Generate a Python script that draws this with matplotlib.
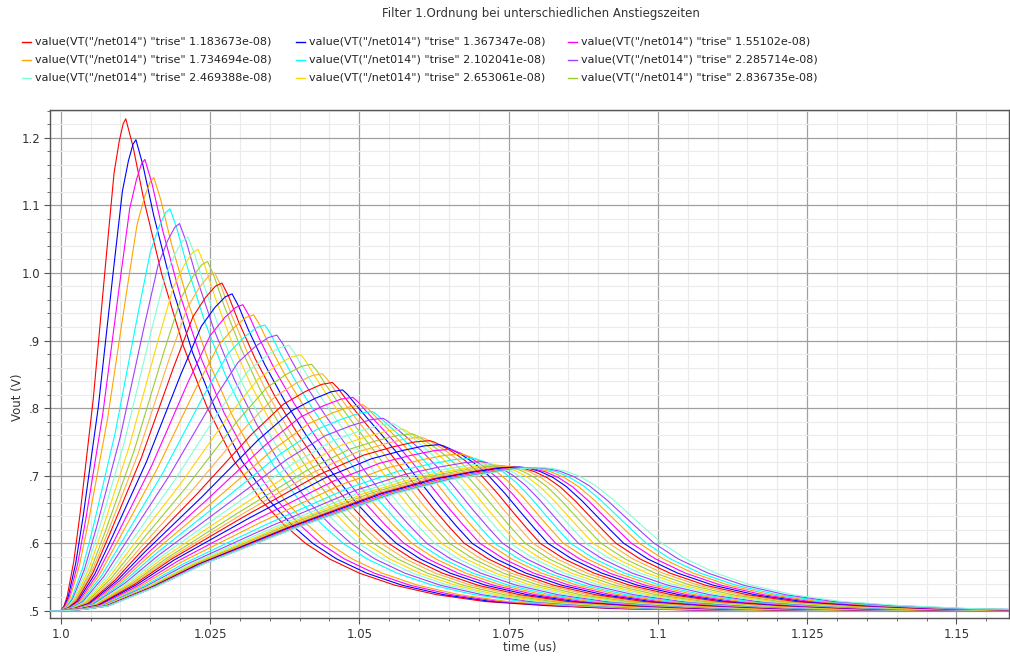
import matplotlib
matplotlib.use("Agg")
import matplotlib.pyplot as plt
from matplotlib.lines import Line2D
from matplotlib.ticker import FixedLocator, MultipleLocator

# trise of every trace drawn (the 1.918367e-08 run does not show up in the plot)
trise = [1.183673e-08, 1.367347e-08, 1.55102e-08, 1.734694e-08, 2.102041e-08,
         2.285714e-08, 2.469388e-08, 2.653061e-08, 2.836735e-08, 3.020408e-08,
         3.204082e-08, 3.387755e-08, 3.571429e-08, 3.755102e-08, 3.938776e-08,
         4.122449e-08, 4.306122e-08, 4.489796e-08, 4.673469e-08, 4.857143e-08,
         5.040816e-08, 5.22449e-08, 5.408163e-08, 5.591837e-08, 5.77551e-08,
         5.959184e-08, 6.142857e-08, 6.326531e-08, 6.510204e-08, 6.693878e-08,
         6.877551e-08, 7.061224e-08, 7.244898e-08, 7.428571e-08, 7.612245e-08,
         7.795918e-08, 7.979592e-08, 8.163265e-08, 8.346939e-08, 8.530612e-08,
         8.714286e-08, 8.897959e-08, 9.081633e-08, 9.265306e-08, 9.44898e-08,
         9.632653e-08, 9.816327e-08]

# one value per trace
peak_time_us = [1.0109, 1.0126, 1.0141, 1.0156, 1.0183, 1.0199, 1.0213, 1.0230, 1.0246, 1.0258,
                1.0270, 1.0287, 1.0305, 1.0323, 1.0342, 1.0362, 1.0382, 1.0402, 1.0420, 1.0438,
                1.0455, 1.0472, 1.0489, 1.0506, 1.0522, 1.0540, 1.0557, 1.0573, 1.0589, 1.0604,
                1.0618, 1.0634, 1.0652, 1.0671, 1.0690, 1.0705, 1.0718, 1.0730, 1.0741, 1.0751,
                1.0760, 1.0768, 1.0776, 1.0783, 1.0790, 1.0796, 1.0802]
peak_vout = [1.228, 1.197, 1.168, 1.141, 1.095, 1.073, 1.053, 1.035, 1.017, 1.000,
             0.985, 0.969, 0.953, 0.938, 0.923, 0.908, 0.893, 0.879, 0.865, 0.851,
             0.838, 0.827, 0.816, 0.805, 0.795, 0.785, 0.777, 0.769, 0.762, 0.757,
             0.752, 0.746, 0.739, 0.732, 0.726, 0.721, 0.718, 0.716, 0.715, 0.714,
             0.713, 0.713, 0.712, 0.712, 0.712, 0.712, 0.712]
# time where the falling edge crosses 0.6 V
fall_060_us = [1.0410, 1.0422, 1.0435, 1.0448, 1.0473, 1.0486, 1.0499, 1.0511, 1.0524, 1.0537,
               1.0549, 1.0562, 1.0575, 1.0588, 1.0600, 1.0613, 1.0626, 1.0638, 1.0651, 1.0664,
               1.0676, 1.0689, 1.0702, 1.0715, 1.0727, 1.0740, 1.0753, 1.0765, 1.0778, 1.0791,
               1.0803, 1.0816, 1.0829, 1.0842, 1.0854, 1.0867, 1.0880, 1.0892, 1.0905, 1.0918,
               1.0930, 1.0943, 1.0956, 1.0969, 1.0981, 1.0994, 1.1007]
# 0 = shaped like the fastest trace, 1 = like the slowest
shape_mix = [0, .02, .04, .06, .09, .11, .13, .16, .18, .20,
             .23, .25, .28, .31, .33, .36, .39, .42, .44, .47,
             .50, .53, .56, .59, .62, .65, .68, .71, .74, .77,
             .80, .82, .83, .85, .86, .87, .88, .89, .90, .91,
             .93, .94, .95, .96, .97, .98, 1.0]

# edge shapes read from the fastest / slowest trace (fractions of time and height)
rise_frac_t = [0.05, 0.1, 0.2, 0.3, 0.5, 0.7, 0.82, 0.9, 0.96]
rise_fast = [0.01, 0.03, 0.10, 0.20, 0.43, 0.72, 0.89, 0.955, 0.99]
rise_slow = [0.012, 0.035, 0.17, 0.33, 0.59, 0.82, 0.92, 0.965, 0.993]
fall_frac_t = [0.04, 0.1, 0.2, 0.32, 0.45, 0.6, 0.75, 0.88]
fall_fast = [0.935, 0.81, 0.634, 0.465, 0.323, 0.196, 0.103, 0.044]
fall_slow = [0.998, 0.99, 0.96, 0.89, 0.77, 0.58, 0.36, 0.17]
# tail after the 0.6 V crossing
tail_dt_us = [0.004, 0.009, 0.015, 0.022, 0.030, 0.040, 0.052, 0.066]
tail_vout = [0.577, 0.556, 0.538, 0.524, 0.514, 0.508, 0.5035, 0.5014]

v_base = 0.5
v_knee = 0.6
t_start_us = 0.99
t_edge_us = 1.0
t_stop_us = 1.17

colors = ['#ff0000', '#0000ff', '#ff00ff', '#ffa500', '#00ffff',
          '#a040ff', '#80ffd4', '#ffd700', '#9acd32', '#ffb040']

x_ticks = [1.0, 1.025, 1.05, 1.075, 1.1, 1.125, 1.15]
x_labels = ['1.0', '1.025', '1.05', '1.075', '1.1', '1.125', '1.15']
y_ticks = [0.5, 0.6, 0.7, 0.8, 0.9, 1.0, 1.1, 1.2]
y_labels = ['.5', '.6', '.7', '.8', '.9', '1.0', '1.1', '1.2']


def trace(i):
    tp, vp, t6, m = peak_time_us[i], peak_vout[i], fall_060_us[i], shape_mix[i]
    d = tp - t_edge_us
    h = vp - v_base
    ts = [t_start_us, t_edge_us]
    vs = [v_base, v_base]
    for f, a, b in zip(rise_frac_t, rise_fast, rise_slow):
        ts.append(t_edge_us + f * d)
        vs.append(v_base + (a + m * (b - a)) * h)
    ts.append(tp)
    vs.append(vp)
    span = t6 - tp
    for f, a, b in zip(fall_frac_t, fall_fast, fall_slow):
        ts.append(tp + f * span)
        vs.append(v_knee + (a + m * (b - a)) * (vp - v_knee))
    ts.append(t6)
    vs.append(v_knee)
    for dt, v in zip(tail_dt_us, tail_vout):
        ts.append(t6 + dt)
        vs.append(v)
    ts.append(t_stop_us)
    vs.append(v_base)
    return ts, vs


W, H = 1010, 658
fig = plt.figure(figsize=(W / 100, H / 100), dpi=100)
ax = fig.add_axes([50 / W, 1 - 618 / H, 959 / W, 508 / H])

for i in range(len(trise)):
    ts, vs = trace(i)
    ax.plot(ts, vs, color=colors[i % len(colors)], lw=0.8, zorder=3)

ax.set_xlim(0.99821, 1.1588)
ax.set_ylim(0.4896, 1.241)
ax.xaxis.set_major_locator(FixedLocator(x_ticks))
ax.set_xticklabels(x_labels)
ax.yaxis.set_major_locator(FixedLocator(y_ticks))
ax.set_yticklabels(y_labels)
ax.xaxis.set_minor_locator(MultipleLocator(0.005))
ax.yaxis.set_minor_locator(MultipleLocator(0.02))
ax.grid(which='major', color='#a0a0a0', lw=0.9, zorder=1)
ax.grid(which='minor', color='#ebebeb', lw=0.8, zorder=0)
ax.set_axisbelow(True)
ax.tick_params(which='major', direction='out', length=4, color='#555555',
               labelsize=8.5, labelcolor='#333333', pad=3)
ax.tick_params(which='minor', direction='out', length=2, color='#555555')
for s in ax.spines.values():
    s.set_color('#555555')
    s.set_linewidth(1.0)

fig.text(541 / W, 1 - 14 / H, 'Filter 1.Ordnung bei unterschiedlichen Anstiegszeiten',
         ha='center', va='center', fontsize=8.5, color='#333333')
fig.text(530 / W, 1 - 648 / H, 'time (us)', ha='center', va='center',
         fontsize=8.5, color='#333333')
fig.text(18 / W, 1 - 397 / H, 'Vout (V)', ha='center', va='center', rotation=90,
         fontsize=8.5, color='#333333')

# legend, 3 per row, first nine traces
for j in range(9):
    col, row = j % 3, j // 3
    x0 = [22, 296, 568][col]
    y = 1 - (42 + 18 * row) / H
    fig.add_artist(Line2D([x0 / W, (x0 + 9) / W], [y, y], color=colors[j], lw=1.0))
    fig.text((x0 + 13) / W, y, 'value(VT("/net014") "trise" %s)' % ('%.7g' % trise[j]),
             ha='left', va='center', fontsize=8, color='#222222')

fig.savefig('out.png', dpi=100)
